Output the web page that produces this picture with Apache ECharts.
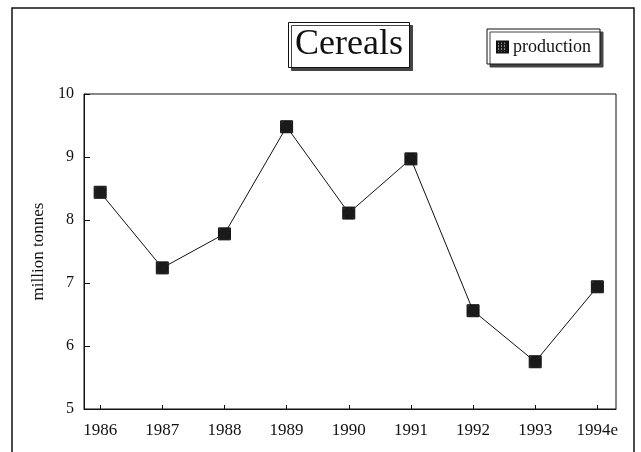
<!DOCTYPE html>
<html>
<head>
<meta charset="utf-8">
<script src="https://cdn.jsdelivr.net/npm/echarts@6/dist/echarts.min.js"></script>
<style>
  html, body { margin: 0; padding: 0; background: #fff; }
  #chart { width: 641px; height: 452px; }
</style>
</head>
<body>
<div id="chart"></div>
<script>
const years = ['1986', '1987', '1988', '1989', '1990', '1991', '1992', '1993', '1994e']
const production = [8.44, 7.24, 7.78, 9.48, 8.11, 8.97, 6.56, 5.75, 6.94]

// checkered fill used for the markers
const makePattern = () => {
  const c = document.createElement('canvas')
  c.width = 3
  c.height = 3
  const ctx = c.getContext('2d')
  ctx.fillStyle = '#1a1a1a'
  ctx.fillRect(0, 0, 3, 3)
  ctx.fillStyle = '#f4f4f4'
  ctx.fillRect(1, 1, 1, 1)
  return { image: c, repeat: 'repeat' }
}
const checker = makePattern()
const serif = '"Liberation Serif", "DejaVu Serif", serif'

const chart = echarts.init(document.getElementById('chart'))
chart.setOption({
  animation: false,
  graphic: [{
    type: 'rect',
    shape: { x: 12, y: 8, width: 622, height: 470 },
    style: { fill: 'none', stroke: '#111', lineWidth: 1.5 },
    silent: true
  }],
  title: {
    text: 'Cereals',
    left: 288,
    top: 22,
    padding: [5, 7, 5, 7],
    backgroundColor: '#fff',
    borderColor: '#111',
    borderWidth: 1,
    shadowColor: '#444',
    shadowBlur: 0,
    shadowOffsetX: 3,
    shadowOffsetY: 3,
    textStyle: { fontFamily: serif, fontWeight: 'normal', fontSize: 36, color: '#111' }
  },
  legend: {
    data: ['production'],
    left: 487,
    top: 29,
    padding: [9, 9, 8, 9],
    backgroundColor: '#fff',
    borderColor: '#111',
    borderWidth: 1,
    shadowColor: '#444',
    shadowBlur: 0,
    shadowOffsetX: 3,
    shadowOffsetY: 3,
    icon: 'rect',
    itemWidth: 11,
    itemHeight: 11,
    textStyle: { fontFamily: serif, fontSize: 18, color: '#111' }
  },
  grid: {
    left: 84,
    right: 25,
    top: 94,
    bottom: 43,
    show: true,
    borderColor: '#111',
    borderWidth: 1
  },
  xAxis: {
    type: 'value',
    min: -0.26,
    max: 8.3,
    minInterval: 1,
    maxInterval: 1,
    splitLine: { show: false },
    axisLine: { onZero: false, lineStyle: { color: '#111', width: 1 } },
    axisTick: { inside: true, length: 4, lineStyle: { color: '#111' } },
    axisLabel: {
      showMinLabel: false,
      showMaxLabel: false,
      margin: 13,
      color: '#111',
      fontFamily: serif,
      fontSize: 17,
      formatter: (v) => years[Math.round(v)] || ''
    }
  },
  yAxis: {
    type: 'value',
    min: 5,
    max: 10,
    interval: 1,
    name: 'million tonnes',
    nameLocation: 'middle',
    nameGap: 34,
    nameTextStyle: { fontFamily: serif, fontSize: 17, color: '#111' },
    splitLine: { show: false },
    axisLine: { show: true, onZero: false, lineStyle: { color: '#111', width: 1 } },
    axisTick: { show: true, inside: true, length: 6, lineStyle: { color: '#111' } },
    axisLabel: { margin: 10, color: '#111', fontFamily: serif, fontSize: 16 }
  },
  series: [{
    name: 'production',
    type: 'line',
    data: production.map((v, i) => [i, v]),
    symbol: 'rect',
    symbolSize: 12,
    lineStyle: { color: '#111', width: 1 },
    itemStyle: { color: checker, borderColor: '#111', borderWidth: 1 }
  }]
})
</script>
</body>
</html>
